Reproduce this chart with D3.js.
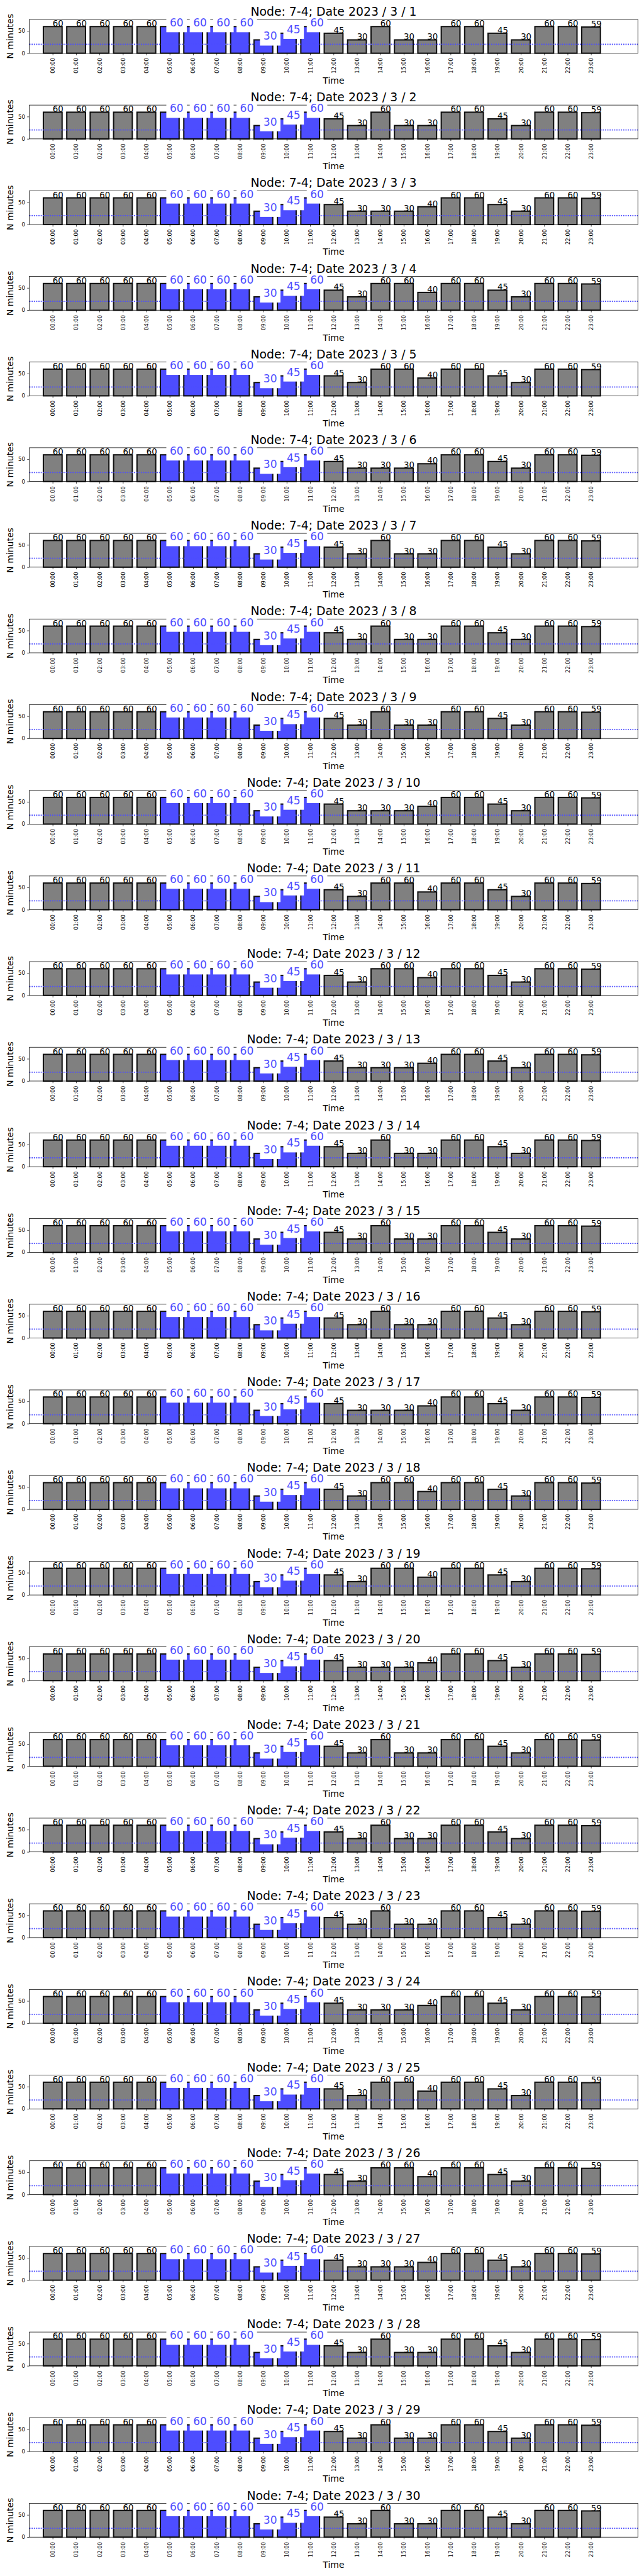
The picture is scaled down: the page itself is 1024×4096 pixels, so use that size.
<!DOCTYPE html>
<html>
<head>
<meta charset="utf-8">
<script src="https://cdn.jsdelivr.net/npm/d3@7"></script>
<style>
  html, body { margin: 0; padding: 0; background: #ffffff; }
  svg { display: block; font-family: "DejaVu Sans", sans-serif; }
</style>
</head>
<body>
<div id="chart"></div>
<script>
// ---------------- data ----------------
const node = "7-4";
const hours = ["00:00","01:00","02:00","03:00","04:00","05:00","06:00","07:00","08:00","09:00","10:00","11:00",
               "12:00","13:00","14:00","15:00","16:00","17:00","18:00","19:00","20:00","21:00","22:00","23:00"];
const days = [1,2,3,4,5,6,7,8,9,10,11,12,13,14,15,16,17,18,19,20,21,22,23,24,25,26,27,28,29,30];
// minutes per hour, 00:00 - 11:00 (identical on every day)
const morningValues = [60,60,60,60,60,60,60,60,60,30,45,60];
// minutes per hour, 12:00 - 23:00, three observed day patterns
const afternoonA = [45,30,60,30,30,60,60,45,30,60,60,59];
const afternoonB = [45,30,30,30,40,60,60,45,30,60,60,59];
const afternoonC = [45,30,60,60,40,60,60,45,30,60,60,59];
const dayPattern = ["A","A","B","C","C","B","A","A","A","B","C","C","B","A","A",
                    "A","B","C","C","B","A","A","A","B","C","C","B","A","A","A"];
const highlightHours = ["05:00","06:00","07:00","08:00","09:00","10:00","11:00"];
const thresholdValue = 20;
const yTicks = [0, 50];
const yMax = 76;

// ---------------- layout (reference pixels, scaled by viewBox) ----------------
const W = 1500, H = 6000;
const panelStep = 199.5;
const axL = 68.3, axR = 1485.7, axT = 45.3, axB = 124;
const GRAY = "#808080", BLUE = "#4d4dff", EDGE = "#111111";

const afternoon = {A: afternoonA, B: afternoonB, C: afternoonC};

const svg = d3.select("#chart").append("svg")
  .attr("width", 1024).attr("height", 4096)
  .attr("viewBox", `0 0 ${W} ${H}`)
  .attr("preserveAspectRatio", "none");
svg.append("rect").attr("width", W).attr("height", H).attr("fill", "#fff");

const x = d3.scaleLinear().domain([-1, 25]).range([axL, axR]);
const y = d3.scaleLinear().domain([0, yMax]).range([axB, axT]);
const barW = 0.8;

days.forEach((day, di) => {
  const values = morningValues.concat(afternoon[dayPattern[di]]);
  const data = hours.map((h, i) => ({i, h, v: values[i], hi: highlightHours.includes(h)}));
  const g = svg.append("g").attr("transform", `translate(0,${di * panelStep})`);

  // bars
  g.selectAll("rect.bar").data(data).enter().append("rect")
    .attr("class", "bar")
    .attr("x", d => x(d.i - barW / 2))
    .attr("width", d => x(d.i + barW / 2) - x(d.i - barW / 2))
    .attr("y", d => y(d.v))
    .attr("height", d => y(0) - y(d.v))
    .attr("fill", d => d.hi ? BLUE : GRAY)
    .attr("stroke", EDGE)
    .attr("stroke-width", 3);

  // threshold dotted line
  g.append("line")
    .attr("x1", axL).attr("x2", axR)
    .attr("y1", y(thresholdValue)).attr("y2", y(thresholdValue))
    .attr("stroke", BLUE).attr("stroke-width", 2.6)
    .attr("stroke-dasharray", "2.6,2.7");

  // spines
  g.append("rect")
    .attr("x", axL).attr("y", axT)
    .attr("width", axR - axL).attr("height", axB - axT)
    .attr("fill", "none").attr("stroke", "#000").attr("stroke-width", 1.1);

  // y axis
  const ya = g.append("g").attr("transform", `translate(${axL},0)`)
    .call(d3.axisLeft(y).tickValues(yTicks).tickSize(4.9).tickPadding(4.9).tickSizeOuter(0));
  ya.select(".domain").remove();
  ya.selectAll("line").attr("stroke", "#000").attr("stroke-width", 1.1);
  ya.selectAll("text").attr("font-size", 12.5).attr("font-family", "DejaVu Sans").attr("fill", "#000");

  // x axis
  const xa = g.append("g").attr("transform", `translate(0,${axB})`)
    .call(d3.axisBottom(x).tickValues(d3.range(hours.length)).tickFormat(i => hours[i])
      .tickSize(4.9).tickPadding(4.9).tickSizeOuter(0));
  xa.select(".domain").remove();
  xa.selectAll("line").attr("stroke", "#000").attr("stroke-width", 1.1);
  xa.selectAll("text")
    .attr("font-size", 12.5).attr("font-family", "DejaVu Sans").attr("fill", "#000")
    .attr("transform", "rotate(-90)")
    .attr("x", -11).attr("y", 0).attr("dy", "0.35em")
    .attr("text-anchor", "end");

  // value labels
  data.forEach(d => {
    const fs = d.hi ? 25 : 19.5;
    const tx = x(d.i), ty = y(d.v);
    if (d.hi) {
      const pad = 8;
      const tw = String(d.v).length * 0.636 * fs;
      g.append("rect")
        .attr("x", tx - pad).attr("y", ty - 0.76 * fs - pad)
        .attr("width", tw + 2 * pad).attr("height", 0.76 * fs + 0.21 * fs + 2 * pad)
        .attr("fill", "#fff");
    }
    g.append("text")
      .attr("x", tx).attr("y", ty)
      .attr("font-size", fs)
      .attr("fill", d.hi ? BLUE : "#000")
      .text(d.v);
  });

  // axis labels
  g.append("text")
    .attr("transform", `translate(30.5,${(axT + axB) / 2}) rotate(-90)`)
    .attr("text-anchor", "middle")
    .attr("font-size", 20.5)
    .text("N minutes");
  g.append("text")
    .attr("x", (axL + axR) / 2).attr("y", 195)
    .attr("text-anchor", "middle")
    .attr("font-size", 20.5)
    .text("Time");

  // title
  g.append("text")
    .attr("x", (axL + axR) / 2).attr("y", 36.7)
    .attr("text-anchor", "middle")
    .attr("font-size", 27.6)
    .text(`Node: ${node}; Date 2023 / 3 / ${day}`);
});
</script>
</body>
</html>
